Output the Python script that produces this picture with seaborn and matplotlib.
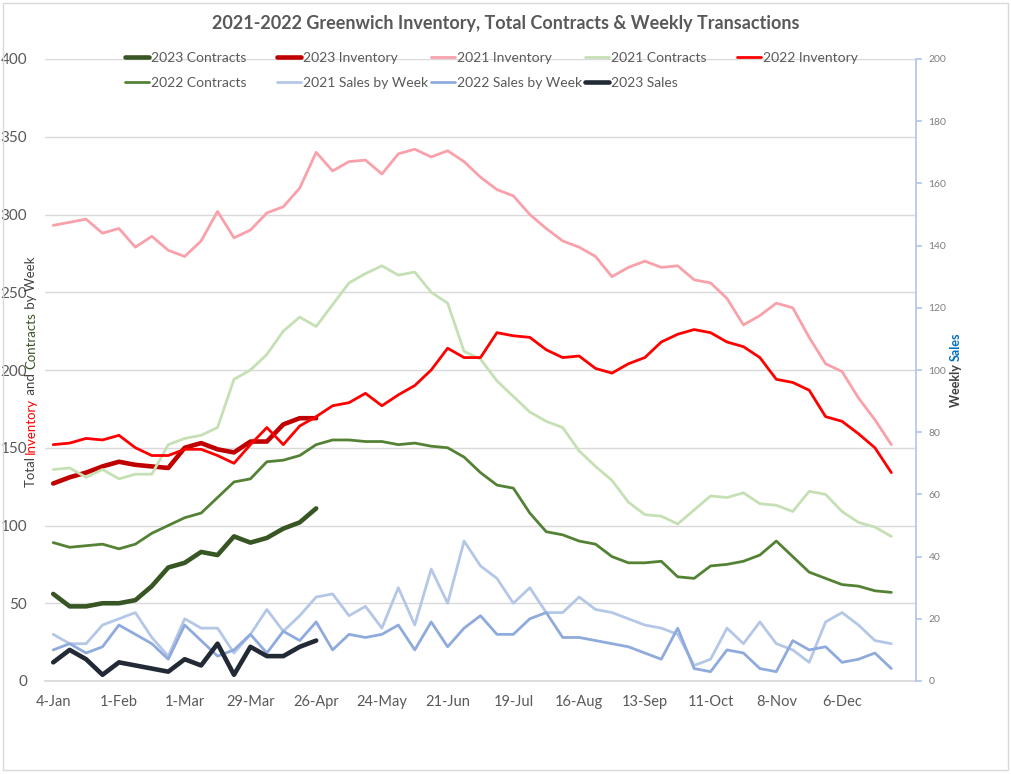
import numpy as np
import pandas as pd
import matplotlib.pyplot as plt
import seaborn as sns
from matplotlib.patches import Rectangle

# etiquetas do eixo x (uma a cada 4 semanas)
week_labels = ["4-Jan", "1-Feb", "1-Mar", "29-Mar", "26-Apr", "24-May", "21-Jun",
               "19-Jul", "16-Aug", "13-Sep", "11-Oct", "8-Nov", "6-Dec"]

# eixo principal: inventario e contratos
inventory_2021 = [293, 295, 297, 288, 291, 279, 286, 277, 273, 283, 302, 285, 290, 301, 305, 317,
                  340, 328, 334, 335, 326, 339, 342, 337, 341, 334, 324, 316, 312, 300, 291, 283,
                  279, 273, 260, 266, 270, 266, 267, 258, 256, 246, 229, 235, 243, 240, 221, 204,
                  199, 182, 168, 152]
contracts_2021 = [136, 137, 131, 136, 130, 133, 133, 152, 156, 158, 163, 194, 200, 210, 225, 234,
                  228, 242, 256, 262, 267, 261, 263, 250, 243, 212, 207, 193, 183, 173, 167, 163,
                  148, 138, 129, 115, 107, 106, 101, 110, 119, 118, 121, 114, 113, 109, 122, 120,
                  109, 102, 99, 93]
inventory_2022 = [152, 153, 156, 155, 158, 150, 145, 145, 149, 149, 145, 140, 152, 163, 152, 164,
                  170, 177, 179, 185, 177, 184, 190, 200, 214, 208, 208, 224, 222, 221, 213, 208,
                  209, 201, 198, 204, 208, 218, 223, 226, 224, 218, 215, 208, 194, 192, 187, 170,
                  167, 159, 150, 134]
contracts_2022 = [89, 86, 87, 88, 85, 88, 95, 100, 105, 108, 118, 128, 130, 141, 142, 145,
                  152, 155, 155, 154, 154, 152, 153, 151, 150, 144, 134, 126, 124, 108, 96, 94,
                  90, 88, 80, 76, 76, 77, 67, 66, 74, 75, 77, 81, 90, 80, 70, 66, 62, 61, 58, 57]
inventory_2023 = [127, 131, 134, 138, 141, 139, 138, 137, 150, 153, 149, 147, 154, 154, 165, 169, 169]
contracts_2023 = [56, 48, 48, 50, 50, 52, 61, 73, 76, 83, 81, 93, 89, 92, 98, 102, 111]

# eixo secundario: vendas semanais
sales_2021 = [15, 12, 12, 18, 20, 22, 14, 8, 20, 17, 17, 9, 15, 23, 16, 21, 27, 28, 21, 24, 17, 30,
              18, 36, 25, 45, 37, 33, 25, 30, 22, 22, 27, 23, 22, 20, 18, 17, 15, 5, 7, 17, 12, 19,
              12, 10, 6, 19, 22, 18, 13, 12]
sales_2022 = [10, 12, 9, 11, 18, 15, 12, 7, 18, 13, 8, 10, 15, 9, 16, 13, 19, 10, 15, 14, 15, 18,
              10, 19, 11, 17, 21, 15, 15, 20, 22, 14, 14, 13, 12, 11, 9, 7, 17, 4, 3, 10, 9, 4, 3,
              13, 10, 11, 6, 7, 9, 4]
sales_2023 = [6, 10, 7, 2, 6, 5, 4, 3, 7, 5, 12, 2, 11, 8, 8, 11, 13]

GRAY = "#595959"
W, H = 1012, 774

sns.set_theme(style="white")
plt.rcParams['font.family'] = ['Lato', 'DejaVu Sans']

fig = plt.figure(figsize=(W / 100, H / 100), dpi=100)
ax = fig.add_axes([45 / W, 1 - 681 / H, 871 / W, 622 / H])
ax2 = ax.twinx()

primary = [
    ("2023 Contracts", contracts_2023, "#375623", 3.3),
    ("2023 Inventory", inventory_2023, "#C00000", 3.3),
    ("2021 Inventory", inventory_2021, "#F9A1AB", 2.0),
    ("2021 Contracts", contracts_2021, "#C5E0B4", 2.0),
    ("2022 Inventory", inventory_2022, "#FF0000", 2.0),
    ("2022 Contracts", contracts_2022, "#548235", 2.0),
]
secondary = [
    ("2021 Sales by Week", sales_2021, "#B4C7E7", 2.0),
    ("2022 Sales by Week", sales_2022, "#8FAADC", 2.0),
    ("2023 Sales", sales_2023, "#222A35", 3.3),
]

handles = []
for axis, series in [(ax, primary), (ax2, secondary)]:
    for name, vals, color, lw in series:
        df = pd.DataFrame({"week": np.arange(len(vals)), "value": vals})
        sns.lineplot(data=df, x="week", y="value", ax=axis, color=color,
                     linewidth=lw, sort=False, legend=False)
        line = axis.get_lines()[-1]
        line.set_solid_joinstyle("round")
        handles.append((line, name))

# eixo principal
ax.set_xlim(-0.5, 52.5)
ax.set_ylim(0, 400)
ax.set_yticks(range(0, 401, 50))
ax.set_xticks(range(0, 52, 4))
ax.set_xticklabels(week_labels)
ax.set_xticks(np.arange(-0.5, 53, 1), minor=True)
ax.set_xlabel("")
ax.set_ylabel("")
ax.grid(axis="y", color="#D9D9D9", linewidth=1)
ax.grid(axis="x", visible=False)
ax.tick_params(axis="y", length=0, pad=13, labelsize=11, labelcolor=GRAY)
ax.tick_params(axis="x", which="major", length=0, pad=10, labelsize=10.5, labelcolor=GRAY)
ax.tick_params(axis="x", which="minor", length=5, width=1, color="#D9D9D9", direction="out")
for s in ["left", "top", "right"]:
    ax.spines[s].set_visible(False)
ax.spines["bottom"].set_color("#D9D9D9")

# eixo secundario
ax2.set_ylim(0, 200)
ax2.set_yticks(range(0, 201, 20))
ax2.set_ylabel("")
ax2.tick_params(axis="y", length=4, color="#B4C7E7", labelsize=7.5, labelcolor="#7F7F7F", pad=5)
for s in ["left", "top", "bottom"]:
    ax2.spines[s].set_visible(False)
ax2.spines["right"].set_color("#B4C7E7")

# legenda em grade fixa, como no Excel
col_x = [125, 277, 431, 585, 737]
row_y = [58, 83]
for k, (line, name) in enumerate(handles):
    r, c = divmod(k, 5)
    fig.legend([line], [name], loc="center left", frameon=False,
               bbox_to_anchor=(col_x[c] / W, 1 - row_y[r] / H),
               borderaxespad=0, borderpad=0, handlelength=1.7, handletextpad=0.15,
               fontsize=10, labelcolor=GRAY)

fig.text(0.5, 1 - 24 / H, "2021-2022 Greenwich Inventory, Total Contracts & Weekly Transactions",
         ha="center", va="center", fontsize=13, fontweight="bold", color=GRAY)


def vertical_label(x_px, yc_px, parts, **kw):
    # rotulo vertical com varias cores
    renderer = fig.canvas.get_renderer()
    texts, heights = [], []
    for s, c in parts:
        t = fig.text(0, 0, s, color=c, rotation=90, ha="center", va="bottom", **kw)
        heights.append(t.get_window_extent(renderer).height)
        texts.append(t)
    y = (H - yc_px) - sum(heights) / 2
    for t, h in zip(texts, heights):
        t.set_position((x_px / W, y / H))
        y += h


vertical_label(31, 372, [("Total ", "#404040"), ("Inventory", "#FF0000"), (" and ", "#404040"),
                         ("Contracts", "#375623"), (" by Week", "#404040")], fontsize=9.5)
vertical_label(956, 370, [("Weekly ", "#404040"), ("Sales", "#0070C0")],
               fontsize=9, fontweight="bold")

fig.patches.append(Rectangle((3 / W, 4 / H), 1005 / W, 767 / H, transform=fig.transFigure,
                             fill=False, edgecolor="#D9D9D9", linewidth=1))

fig.savefig("out.png", dpi=100, facecolor="white")
